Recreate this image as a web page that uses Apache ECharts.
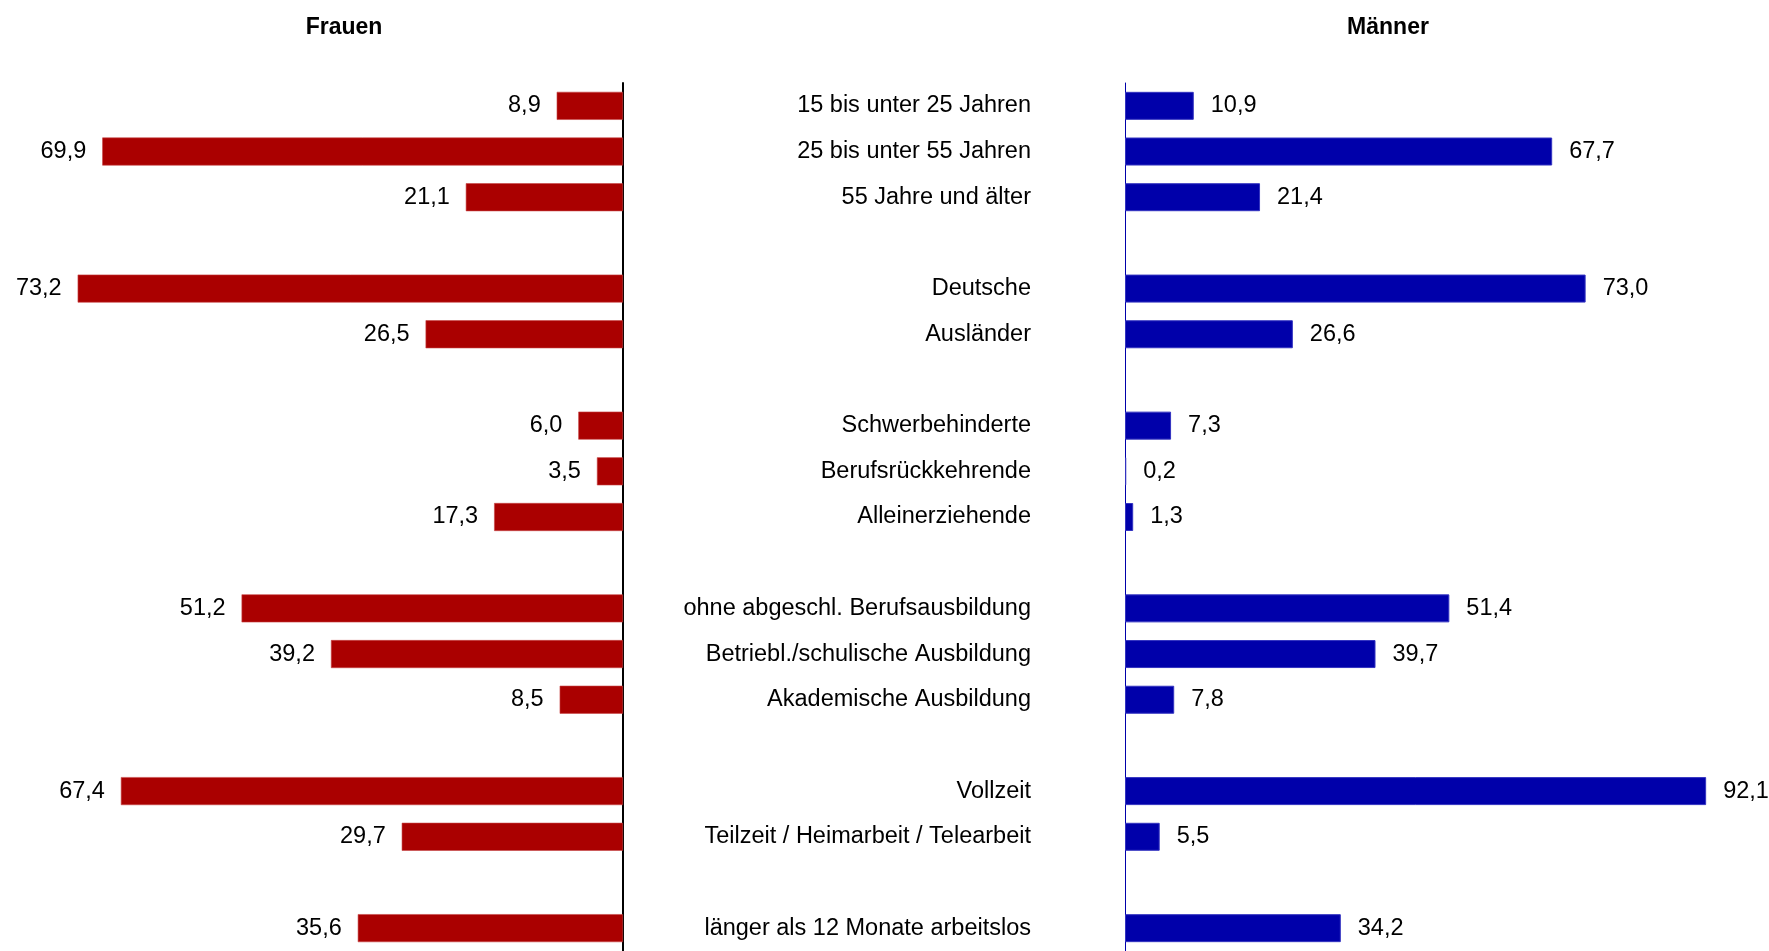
<!DOCTYPE html>
<html>
<head>
<meta charset="utf-8">
<script src="https://cdn.jsdelivr.net/npm/echarts@6/dist/echarts.min.js"></script>
<style>
  html, body { margin: 0; padding: 0; background: #ffffff; }
  #chart { width: 1769px; height: 951px; }
</style>
</head>
<body>
<div id="chart"></div>
<script>
// Row labels; empty strings are spacer rows between the groups
const categories = [
  '15 bis unter 25 Jahren', '25 bis unter 55 Jahren', '55 Jahre und älter', '',
  'Deutsche', 'Ausländer', '',
  'Schwerbehinderte', 'Berufsrückkehrende', 'Alleinerziehende', '',
  'ohne abgeschl. Berufsausbildung', 'Betriebl./schulische Ausbildung', 'Akademische Ausbildung', '',
  'Vollzeit', 'Teilzeit / Heimarbeit / Telearbeit', '',
  'länger als 12 Monate arbeitslos'
];

// Shares in percent
const frauen = [8.9, 69.9, 21.1, '-', 73.2, 26.5, '-', 6.0, 3.5, 17.3, '-', 51.2, 39.2, 8.5, '-', 67.4, 29.7, '-', 35.6];
const maenner = [10.9, 67.7, 21.4, '-', 73.0, 26.6, '-', 7.3, 0.2, 1.3, '-', 51.4, 39.7, 7.8, '-', 92.1, 5.5, '-', 34.2];

const titles = ['Frauen', 'Männer'];

const FONT = '"Liberation Sans", Arial, sans-serif';
const fmt = p => (typeof p.value === 'number') ? p.value.toFixed(1).replace('.', ',') : '';

const chart = echarts.init(document.getElementById('chart'), null, { renderer: 'canvas' });

chart.setOption({
  animation: false,
  backgroundColor: '#ffffff',
  textStyle: { fontFamily: FONT },
  title: [
    { text: titles[0], left: 339, top: 11, textAlign: 'center',
      textStyle: { fontFamily: FONT, fontSize: 23, fontWeight: 'bold', color: '#000' } },
    { text: titles[1], left: 1383, top: 11, textAlign: 'center',
      textStyle: { fontFamily: FONT, fontSize: 23, fontWeight: 'bold', color: '#000' } }
  ],
  grid: [
    { left: 27, width: 596, top: 83, height: 876 },
    { left: 1125, width: 631, top: 83, height: 876 }
  ],
  xAxis: [
    { gridIndex: 0, type: 'value', min: 0, max: 80, inverse: true, show: false },
    { gridIndex: 1, type: 'value', min: 0, max: 100, show: false }
  ],
  yAxis: [
    { gridIndex: 0, type: 'category', data: categories, inverse: true, position: 'right',
      axisLine: { show: true, lineStyle: { color: '#000', width: 2 } },
      axisTick: { show: false }, axisLabel: { show: false }, splitLine: { show: false } },
    { gridIndex: 1, type: 'category', data: categories, inverse: true, position: 'left',
      axisLine: { show: true, lineStyle: { color: '#0000AA', width: 1 } },
      axisTick: { show: false },
      axisLabel: { show: true, margin: 94, color: '#000', fontSize: 23.5, fontFamily: FONT, align: 'right' },
      splitLine: { show: false } }
  ],
  series: [
    { name: titles[0], type: 'bar', xAxisIndex: 0, yAxisIndex: 0, data: frauen, barWidth: 28,
      itemStyle: { color: '#AA0000', borderColor: '#C84444', borderWidth: 0.6 },
      label: { show: true, position: 'left', distance: 16, color: '#000', fontSize: 23.5, fontFamily: FONT, formatter: fmt } },
    { name: titles[1], type: 'bar', xAxisIndex: 1, yAxisIndex: 1, data: maenner, barWidth: 28,
      itemStyle: { color: '#0000AA', borderColor: '#3333C0', borderWidth: 1 },
      label: { show: true, position: 'right', distance: 17, color: '#000', fontSize: 23.5, fontFamily: FONT, formatter: fmt } }
  ]
});
</script>
</body>
</html>
